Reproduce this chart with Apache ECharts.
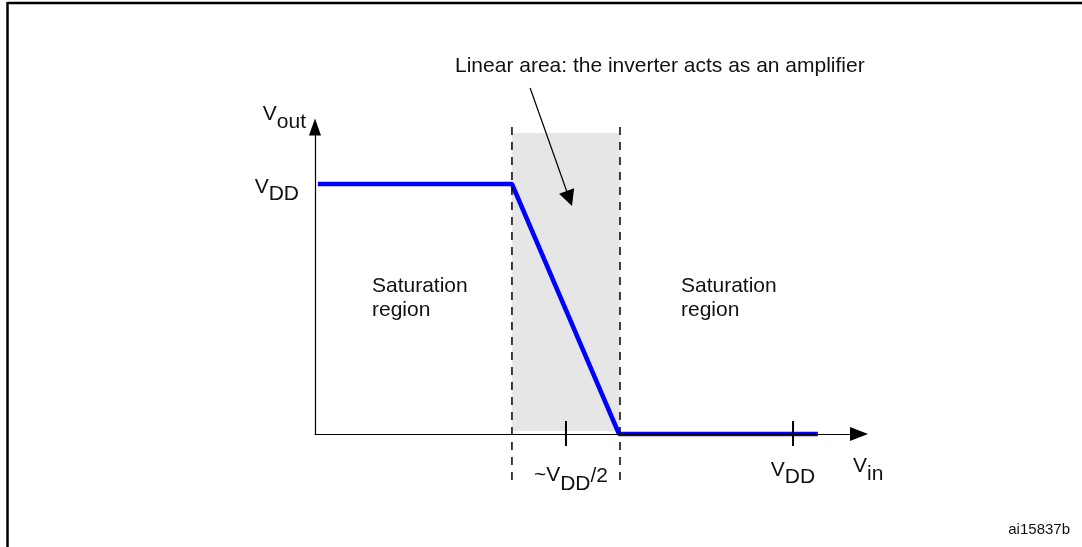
<!DOCTYPE html>
<html lang="en">
<head>
<meta charset="UTF-8">
<title>Inverter transfer characteristic</title>
<style>
  html, body { margin: 0; padding: 0; background: #fff; }
  #chart { width: 1082px; height: 547px; }
</style>
<script src="https://cdn.jsdelivr.net/npm/echarts@6.0.0/dist/echarts.min.js"></script>
</head>
<body>
<div id="chart"></div>
<script>
// Vout against Vin, both as a fraction of VDD
var curveX = [0.006, 0.412, 0.636, 1.052];
var curveY = [1, 1, 0, 0];
// linear area: edges on the Vin axis, bottom and top of the grey band
var linearEdges = [0.412, 0.638];
var linearBottom = 0.012;
var linearTop = 1.204;
// dashed guides run from .. to
var guideSpan = [-0.208, 1.228];
// ticks and their labels, each label is [text, subscript, text]
var xTicks = [0.525, 1];
var xTickLabels = [['~V', 'DD', '/2'], ['V', 'DD', '']];
var yTicks = [1];
var yTickLabels = [['V', 'DD', '']];
// note arrow, from -> to
var noteFrom = [0.450, 1.384];
var noteTo = [0.532, 0.942];

var FONT = '"Liberation Sans", Arial, sans-serif';
var INK = '#111';

function tok(pad) {
  return { fontSize: 21, fontFamily: FONT, lineHeight: 21, color: INK, verticalAlign: 'top', padding: [pad, 0, 0, 0] };
}
function gtok(pad) {
  return { font: '21px ' + FONT, fontSize: 21, fontFamily: FONT, lineHeight: 21, fill: INK, verticalAlign: 'top', padding: [pad, 0, 0, 0] };
}
function findIdx(arr, v) {
  for (var i = 0; i < arr.length; i++) if (Math.abs(arr[i] - v) < 1e-6) return i;
  return 0;
}

var chart = echarts.init(document.getElementById('chart'));

var option = {
  animation: false,
  backgroundColor: '#fff',
  grid: { left: 315, right: 223, top: 127, bottom: 113, outerBoundsMode: 'none' },
  xAxis: {
    type: 'value', min: 0, max: 1.138, z: 10,
    axisLine: { show: true, onZero: true, symbol: ['none', 'triangle'], symbolSize: [14, 18],
      lineStyle: { color: '#000', width: 1.2 } },
    axisTick: { show: false },
    splitLine: { show: false },
    axisLabel: {
      customValues: xTicks, margin: 26, color: INK,
      formatter: function (v) {
        var k = findIdx(xTicks, v), p = xTickLabels[k];
        var s = '{n' + k + '|' + p[0] + '}{d' + k + '|' + p[1] + '}';
        if (p[2]) s += '{m' + k + '|' + p[2] + '}';
        if (k === 0) s = '{sp| }' + s;
        return s;
      },
      rich: { sp: { width: 10, fontSize: 21 }, n0: tok(5), d0: tok(14), m0: tok(6), n1: tok(0), d1: tok(7) }
    }
  },
  yAxis: {
    type: 'value', min: 0, max: 1.228, z: 10,
    axisLine: { show: true, onZero: true, symbol: ['none', 'triangle'], symbolSize: [12, 17],
      lineStyle: { color: '#000', width: 1.2 } },
    axisTick: { show: false },
    splitLine: { show: false },
    axisLabel: {
      customValues: yTicks, margin: 16, color: INK,
      formatter: function (v) {
        var p = yTickLabels[findIdx(yTicks, v)];
        return '{yn|' + p[0] + '}{yd|' + p[1] + '}';
      },
      rich: { yn: tok(3), yd: tok(10) }
    }
  },
  series: [
    {
      // grey band of the linear area
      type: 'custom', z: 1, silent: true, clip: false,
      data: [[linearEdges[0], linearEdges[1]]],
      renderItem: function (params, api) {
        var a = api.coord([api.value(0), linearTop]);
        var b = api.coord([api.value(1), linearBottom]);
        return { type: 'rect', shape: { x: a[0], y: a[1], width: b[0] - a[0], height: b[1] - a[1] },
          style: { fill: '#e6e6e6' } };
      }
    },
    {
      type: 'line', z: 3, clip: false, silent: true,
      data: curveX.map(function (x, i) { return [x, curveY[i]]; }),
      symbol: 'none',
      lineStyle: { color: '#0000ff', width: 4.5 }
    },
    {
      // dashed edges of the linear area
      type: 'custom', z: 4, silent: true, clip: false,
      data: linearEdges.map(function (x) { return [x, 0]; }),
      renderItem: function (params, api) {
        var t = api.coord([api.value(0), guideSpan[1]]);
        var b = api.coord([api.value(0), guideSpan[0]]);
        return { type: 'line', shape: { x1: t[0], y1: t[1], x2: b[0], y2: b[1] },
          style: { stroke: '#000', lineWidth: 1.5, lineDash: [8, 7] } };
      }
    },
    {
      // ticks crossing the Vin axis
      type: 'custom', z: 5, silent: true, clip: false,
      data: xTicks.map(function (x) { return [x, 0]; }),
      renderItem: function (params, api) {
        var p = api.coord([api.value(0), 0]);
        return { type: 'line', shape: { x1: p[0], y1: p[1] - 13, x2: p[0], y2: p[1] + 12 },
          style: { stroke: '#000', lineWidth: 2 } };
      }
    },
    {
      type: 'lines', coordinateSystem: 'cartesian2d', z: 6, silent: true, clip: false,
      symbol: ['none', 'triangle'], symbolSize: 16,
      lineStyle: { color: '#000', width: 1.2, opacity: 1, curveness: 0 },
      data: [{ coords: [noteFrom, noteTo] }]
    }
  ],
  graphic: [
    { type: 'line', shape: { x1: 7.5, y1: 3, x2: 1082, y2: 3 }, style: { stroke: '#000', lineWidth: 2.5 } },
    { type: 'line', shape: { x1: 7.5, y1: 2, x2: 7.5, y2: 547 }, style: { stroke: '#000', lineWidth: 2.5 } },
    { type: 'text', x: 306, y: 104,
      style: { text: '{v|V}{s|out}', fill: INK, font: '21px ' + FONT, textAlign: 'right', align: 'right',
        textVerticalAlign: 'top', verticalAlign: 'top', rich: { v: gtok(0), s: gtok(8) } } },
    { type: 'text', x: 853, y: 456,
      style: { text: '{v|V}{s|in}', fill: INK, font: '21px ' + FONT, textAlign: 'left', align: 'left',
        textVerticalAlign: 'top', verticalAlign: 'top', rich: { v: gtok(0), s: gtok(8) } } },
    { type: 'text', x: 372, y: 274,
      style: { text: 'Saturation\nregion', fill: INK, font: '21px ' + FONT, lineHeight: 24,
        textVerticalAlign: 'top', verticalAlign: 'top' } },
    { type: 'text', x: 681, y: 274,
      style: { text: 'Saturation\nregion', fill: INK, font: '21px ' + FONT, lineHeight: 24,
        textVerticalAlign: 'top', verticalAlign: 'top' } },
    { type: 'text', x: 455, y: 66,
      style: { text: 'Linear area: the inverter acts as an amplifier', fill: INK, font: '21px ' + FONT,
        textVerticalAlign: 'middle', verticalAlign: 'middle' } },
    { type: 'text', x: 1070, y: 530,
      style: { text: 'ai15837b', fill: INK, font: '15px ' + FONT, textAlign: 'right', align: 'right',
        textVerticalAlign: 'middle', verticalAlign: 'middle' } }
  ]
};

chart.setOption(option);
</script>
</body>
</html>
